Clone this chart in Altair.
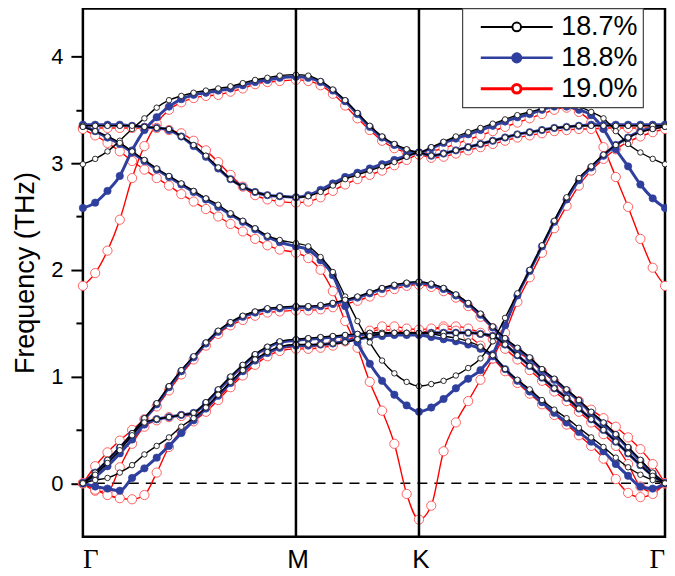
import altair as alt
import pandas as pd

# path coordinate (Gamma-M = 0.866, M-K = 0.5, K-Gamma = 1.0)
K = [0.000, 0.050, 0.100, 0.150, 0.200, 0.250, 0.300, 0.350, 0.400, 0.450, 0.500, 0.550, 0.600, 0.650, 0.700, 0.750, 0.800, 0.866,
     0.916, 0.966, 1.016, 1.066, 1.116, 1.166, 1.216, 1.266, 1.316, 1.366,
     1.416, 1.466, 1.516, 1.566, 1.616, 1.666, 1.716, 1.766, 1.816, 1.866, 1.916, 1.966, 2.016, 2.066, 2.116, 2.166, 2.216, 2.266, 2.316, 2.366]

TICK_POS = [0.0, 0.866, 1.366, 2.366]
TICK_LABELS = ["Γ", "M", "K", "Γ"]

SERIES = ["18.7%", "18.8%", "19.0%"]

# ---- 18.7 % ----
ZO_187 = [2.99, 3.04, 3.11, 3.21, 3.32, 3.42, 3.52, 3.59, 3.63, 3.66, 3.68, 3.70, 3.72, 3.75, 3.78, 3.80, 3.82, 3.83,
          3.82, 3.77, 3.69, 3.59, 3.47, 3.35, 3.25, 3.18, 3.13, 3.10,
          3.15, 3.20, 3.25, 3.29, 3.33, 3.37, 3.41, 3.45, 3.48, 3.51, 3.54, 3.55, 3.53, 3.48, 3.42, 3.30, 3.18, 3.10, 3.04, 2.99]
LO_187 = [3.35, 3.35, 3.35, 3.35, 3.35, 3.34, 3.33, 3.32, 3.25, 3.17, 3.07, 2.96, 2.85, 2.78, 2.73, 2.70, 2.69, 2.68,
          2.69, 2.73, 2.79, 2.85, 2.89, 2.93, 2.97, 3.01, 3.06, 3.10,
          3.07, 3.09, 3.12, 3.15, 3.18, 3.21, 3.24, 3.27, 3.29, 3.31, 3.33, 3.34, 3.35, 3.35, 3.35, 3.35, 3.35, 3.35, 3.35, 3.35]
TO_187 = [3.34, 3.30, 3.25, 3.19, 3.11, 3.03, 2.95, 2.88, 2.81, 2.74, 2.67, 2.61, 2.53, 2.46, 2.39, 2.32, 2.28, 2.25,
          2.22, 2.12, 1.98, 1.75, 1.52, 1.32, 1.15, 1.03, 0.95, 0.91,
          0.93, 0.96, 1.01, 1.08, 1.17, 1.33, 1.55, 1.78, 2.00, 2.23, 2.46, 2.68, 2.86, 2.97, 3.08, 3.17, 3.24, 3.29, 3.32, 3.34]
LA_187 = [0.00, 0.10, 0.22, 0.34, 0.47, 0.61, 0.75, 0.91, 1.06, 1.19, 1.32, 1.43, 1.51, 1.57, 1.61, 1.64, 1.65, 1.66,
          1.66, 1.67, 1.69, 1.72, 1.75, 1.79, 1.83, 1.86, 1.88, 1.89,
          1.87, 1.83, 1.77, 1.69, 1.59, 1.47, 1.36, 1.27, 1.18, 1.07, 0.98, 0.88, 0.78, 0.67, 0.57, 0.46, 0.34, 0.22, 0.10, 0.00]
ZA_187 = [0.00, 0.08, 0.19, 0.31, 0.45, 0.57, 0.60, 0.62, 0.64, 0.66, 0.76, 0.88, 1.00, 1.11, 1.21, 1.28, 1.33, 1.35,
          1.36, 1.37, 1.38, 1.39, 1.40, 1.41, 1.41, 1.41, 1.41, 1.41,
          1.41, 1.41, 1.41, 1.41, 1.40, 1.38, 1.30, 1.20, 1.10, 0.99, 0.89, 0.80, 0.70, 0.60, 0.50, 0.39, 0.28, 0.17, 0.07, 0.00]
TA_187 = [0.00, 0.03, 0.05, 0.10, 0.17, 0.27, 0.35, 0.43, 0.53, 0.61, 0.71, 0.83, 0.95, 1.06, 1.16, 1.23, 1.28, 1.30,
          1.30, 1.30, 1.31, 1.32, 1.35, 1.38, 1.40, 1.41, 1.41, 1.41,
          1.40, 1.38, 1.36, 1.33, 1.28, 1.20, 1.07, 0.97, 0.88, 0.78, 0.69, 0.61, 0.52, 0.43, 0.34, 0.24, 0.15, 0.08, 0.03, 0.00]

# ---- 18.8 % ----
ZO_188 = [2.58, 2.63, 2.74, 2.88, 3.12, 3.31, 3.43, 3.53, 3.60, 3.64, 3.66, 3.68, 3.70, 3.73, 3.76, 3.78, 3.80, 3.81,
          3.80, 3.76, 3.68, 3.58, 3.46, 3.34, 3.24, 3.17, 3.12, 3.10,
          3.14, 3.19, 3.23, 3.27, 3.31, 3.35, 3.39, 3.43, 3.46, 3.50, 3.53, 3.53, 3.50, 3.45, 3.32, 3.13, 2.97, 2.80, 2.67, 2.58]
LO_188 = [3.36, 3.36, 3.36, 3.36, 3.35, 3.34, 3.33, 3.31, 3.25, 3.16, 3.06, 2.95, 2.85, 2.78, 2.73, 2.70, 2.69, 2.68,
          2.70, 2.75, 2.81, 2.87, 2.91, 2.95, 2.99, 3.03, 3.07, 3.10,
          3.07, 3.09, 3.12, 3.15, 3.18, 3.21, 3.24, 3.27, 3.29, 3.31, 3.33, 3.34, 3.35, 3.36, 3.36, 3.36, 3.36, 3.36, 3.36, 3.36]
TO_188 = [3.35, 3.30, 3.24, 3.18, 3.10, 3.02, 2.94, 2.87, 2.80, 2.73, 2.66, 2.59, 2.52, 2.45, 2.38, 2.31, 2.26, 2.22,
          2.19, 2.09, 1.95, 1.66, 1.32, 1.12, 0.96, 0.83, 0.73, 0.67,
          0.71, 0.79, 0.89, 0.98, 1.06, 1.21, 1.48, 1.76, 1.99, 2.22, 2.45, 2.66, 2.84, 2.96, 3.07, 3.17, 3.24, 3.30, 3.33, 3.35]
LA_188 = [0.00, 0.10, 0.21, 0.33, 0.46, 0.60, 0.74, 0.90, 1.05, 1.18, 1.31, 1.42, 1.50, 1.56, 1.60, 1.63, 1.64, 1.65,
          1.65, 1.66, 1.68, 1.71, 1.74, 1.78, 1.82, 1.85, 1.87, 1.88,
          1.86, 1.82, 1.76, 1.68, 1.58, 1.46, 1.35, 1.26, 1.17, 1.06, 0.97, 0.87, 0.77, 0.66, 0.56, 0.45, 0.33, 0.21, 0.09, 0.00]
ZA_188 = [0.00, 0.06, 0.16, 0.28, 0.41, 0.55, 0.60, 0.62, 0.64, 0.66, 0.75, 0.87, 0.99, 1.10, 1.20, 1.27, 1.32, 1.34,
          1.35, 1.36, 1.37, 1.38, 1.39, 1.40, 1.40, 1.40, 1.40, 1.40,
          1.41, 1.41, 1.41, 1.41, 1.40, 1.38, 1.30, 1.20, 1.10, 0.99, 0.89, 0.80, 0.70, 0.60, 0.50, 0.39, 0.28, 0.17, 0.07, 0.00]
TA_188 = [0.00, -0.03, -0.05, -0.07, 0.05, 0.14, 0.24, 0.35, 0.47, 0.59, 0.70, 0.82, 0.94, 1.05, 1.15, 1.22, 1.27, 1.29,
          1.29, 1.30, 1.31, 1.33, 1.35, 1.37, 1.38, 1.39, 1.39, 1.39,
          1.37, 1.35, 1.33, 1.30, 1.26, 1.19, 1.07, 0.96, 0.86, 0.76, 0.66, 0.57, 0.48, 0.39, 0.30, 0.18, 0.07, -0.03, -0.05, 0.00]

# ---- 19.0 % ----
ZO_190 = [1.85, 1.97, 2.18, 2.47, 2.86, 3.16, 3.37, 3.50, 3.57, 3.61, 3.63, 3.64, 3.67, 3.70, 3.74, 3.76, 3.77, 3.78,
          3.77, 3.73, 3.65, 3.54, 3.42, 3.31, 3.21, 3.14, 3.10, 3.08,
          3.11, 3.14, 3.18, 3.22, 3.26, 3.30, 3.34, 3.38, 3.42, 3.46, 3.50, 3.52, 3.48, 3.38, 3.15, 2.87, 2.59, 2.29, 2.02, 1.85]
LO_190 = [3.33, 3.33, 3.33, 3.33, 3.33, 3.33, 3.33, 3.31, 3.28, 3.21, 3.12, 3.01, 2.89, 2.78, 2.70, 2.66, 2.64, 2.63,
          2.64, 2.68, 2.74, 2.80, 2.85, 2.89, 2.93, 2.98, 3.03, 3.08,
          3.05, 3.06, 3.09, 3.12, 3.15, 3.18, 3.21, 3.24, 3.26, 3.28, 3.30, 3.31, 3.32, 3.32, 3.33, 3.33, 3.33, 3.33, 3.33, 3.33]
TO_190 = [3.32, 3.26, 3.19, 3.11, 3.02, 2.94, 2.86, 2.79, 2.71, 2.64, 2.57, 2.50, 2.43, 2.36, 2.29, 2.23, 2.19, 2.16,
          2.11, 2.00, 1.80, 1.52, 1.27, 0.95, 0.68, 0.37, -0.10, -0.34,
          -0.21, 0.30, 0.57, 0.77, 0.97, 1.17, 1.41, 1.70, 1.93, 2.16, 2.39, 2.60, 2.79, 2.93, 3.04, 3.13, 3.20, 3.25, 3.29, 3.32]
LA_190 = [0.00, 0.16, 0.29, 0.40, 0.50, 0.60, 0.72, 0.87, 1.02, 1.16, 1.29, 1.40, 1.48, 1.53, 1.57, 1.60, 1.61, 1.62,
          1.62, 1.63, 1.65, 1.68, 1.71, 1.75, 1.79, 1.82, 1.85, 1.86,
          1.84, 1.80, 1.74, 1.66, 1.56, 1.45, 1.34, 1.24, 1.15, 1.05, 0.95, 0.86, 0.77, 0.69, 0.61, 0.53, 0.43, 0.32, 0.18, 0.00]
ZA_190 = [0.00, -0.07, -0.08, 0.15, 0.37, 0.53, 0.59, 0.62, 0.63, 0.64, 0.70, 0.80, 0.92, 1.03, 1.13, 1.21, 1.26, 1.28,
          1.28, 1.29, 1.31, 1.34, 1.38, 1.42, 1.44, 1.43, 1.42, 1.41,
          1.44, 1.47, 1.47, 1.45, 1.41, 1.35, 1.26, 1.16, 1.06, 0.96, 0.86, 0.77, 0.67, 0.57, 0.46, 0.35, 0.18, -0.03, -0.08, 0.00]
TA_190 = [0.00, -0.06, -0.11, -0.14, -0.15, -0.11, 0.10, 0.34, 0.49, 0.58, 0.67, 0.78, 0.90, 1.01, 1.11, 1.19, 1.24, 1.26,
          1.26, 1.27, 1.29, 1.33, 1.38, 1.43, 1.47, 1.47, 1.45, 1.44,
          1.45, 1.45, 1.43, 1.38, 1.29, 1.17, 1.05, 0.94, 0.84, 0.74, 0.64, 0.55, 0.45, 0.35, 0.23, 0.04, -0.09, -0.13, -0.10, 0.00]

BAND_NAMES = ["ZO", "LO", "TO", "LA", "ZA", "TA"]
BANDS = {
    "18.7%": [ZO_187, LO_187, TO_187, LA_187, ZA_187, TA_187],
    "18.8%": [ZO_188, LO_188, TO_188, LA_188, ZA_188, TA_188],
    "19.0%": [ZO_190, LO_190, TO_190, LA_190, ZA_190, TA_190],
}

rows = []
for s in SERIES:
    for name, vals in zip(BAND_NAMES, BANDS[s]):
        assert len(vals) == len(K), (s, name, len(vals))
        for k, v in zip(K, vals):
            rows.append({"series": s, "band": name, "k": k, "f": v})
df = pd.DataFrame(rows)

W, H = 583, 529
FONT = "Liberation Sans"

xs = alt.Scale(domain=[0, 2.366], nice=False, zero=False)
ys = alt.Scale(domain=[-0.5, 4.45], nice=False, zero=False)

yaxis = alt.Axis(
    values=[0, 0.5, 1, 1.5, 2, 2.5, 3, 3.5, 4],
    labelExpr="datum.value % 1 === 0 ? format(datum.value, 'd') : ''",
    tickSize={"condition": {"test": "datum.value % 1 !== 0", "value": 7}, "value": 12},
    tickWidth=2, tickColor="black", domain=False, grid=False,
    labelFont=FONT, labelFontSize=22, labelColor="black", labelPadding=8,
    title="Frequency (THz)", titleFont=FONT, titleFontSize=27, titleFontWeight="normal",
    titleColor="black", titlePadding=11,
)
X = alt.X("k:Q", scale=xs, axis=None)
Y = alt.Y("f:Q", scale=ys, axis=yaxis)

STYLE = {
    "18.7%": dict(line="#000000", lw=1.4, ms=30, mstroke="#1a1a1a", mfill="white", mw=0.9),
    "18.8%": dict(line="#2f3f9e", lw=3.0, ms=55, mstroke="#2f3f9e", mfill="#2f3f9e", mw=0.6),
    "19.0%": dict(line="#ff0000", lw=1.4, ms=85, mstroke="#ff5050", mfill="white", mw=0.9),
}

zero = alt.Chart(pd.DataFrame({"f": [0.0]})).mark_rule(
    strokeDash=[10, 7], strokeWidth=1.6, color="black").encode(y=Y)

layers = [zero]
for s in ["19.0%", "18.8%", "18.7%"]:
    st = STYLE[s]
    base = alt.Chart(df).transform_filter(alt.datum.series == s)
    layers.append(base.mark_line(color=st["line"], strokeWidth=st["lw"], interpolate="monotone")
                  .encode(x=X, y=Y, detail="band:N", order="k:Q"))
    layers.append(base.mark_point(shape="circle", filled=True, fill=st["mfill"], stroke=st["mstroke"],
                                  strokeWidth=st["mw"], size=st["ms"], opacity=1)
                  .encode(x=X, y=Y))

vlines = alt.Chart(pd.DataFrame({"k": TICK_POS[1:3]})).mark_rule(
    strokeWidth=2.5, color="black").encode(x=X)
layers.append(vlines)

# legend symbol: a 72px line with a circle in the middle (symbol box 20px, path drawn beyond it)
LEG_PATH = "M-3.6,0H-0.43A0.43,0.43,0,1,1,0.43,0A0.43,0.43,0,1,1,-0.43,0M0.43,0H3.6"
leg = alt.Legend(title=None, orient="none", legendX=380, legendY=0,
                 symbolType=LEG_PATH, symbolSize=400, symbolOffset=36,
                 labelFont=FONT, labelFontSize=27, labelColor="black", labelOffset=31,
                 rowPadding=3, padding=5, strokeColor="#444444", fillColor="white")
leg_df = pd.DataFrame({"series": SERIES})
legend_layer = alt.Chart(leg_df).transform_filter("false").mark_point(filled=True, opacity=1).encode(
    stroke=alt.Stroke("series:N", scale=alt.Scale(domain=SERIES, range=["#000000", "#2f3f9e", "#ff0000"]), legend=leg),
    fill=alt.Fill("series:N", scale=alt.Scale(domain=SERIES, range=["white", "#2f3f9e", "white"]), legend=leg),
    strokeWidth=alt.StrokeWidth("series:N", scale=alt.Scale(domain=SERIES, range=[2, 3, 2]), legend=leg),
)
layers.append(legend_layer)

tick_df = pd.DataFrame({"k": TICK_POS, "lab": TICK_LABELS, "idx": list(range(len(TICK_POS)))})
lab_y = alt.value(H + 31)
g_left = alt.Chart(tick_df).transform_filter("datum.idx == 0").mark_text(
    font="Liberation Serif", fontSize=27, align="left", baseline="alphabetic", color="black"
).encode(x=X, y=lab_y, text="lab:N")
g_right = alt.Chart(tick_df).transform_filter("datum.idx == 3").mark_text(
    font="Liberation Serif", fontSize=27, align="right", baseline="alphabetic", color="black"
).encode(x=X, y=lab_y, text="lab:N")
mk = alt.Chart(tick_df).transform_filter("datum.idx == 1 || datum.idx == 2").mark_text(
    font=FONT, fontSize=26, align="center", baseline="alphabetic", color="black", dx=2
).encode(x=X, y=lab_y, text="lab:N")
layers += [g_left, g_right, mk]

chart = alt.layer(*layers).properties(
    width=W, height=H,
    autosize=alt.AutoSizeParams(type="none"),
    padding={"left": 75, "top": 0, "right": 2, "bottom": 38},
    background="white",
).configure_view(stroke="black", strokeWidth=2.5).configure_legend(strokeWidth=1.2)

chart.save("out.html", embed_options={"renderer": "svg", "actions": False})
